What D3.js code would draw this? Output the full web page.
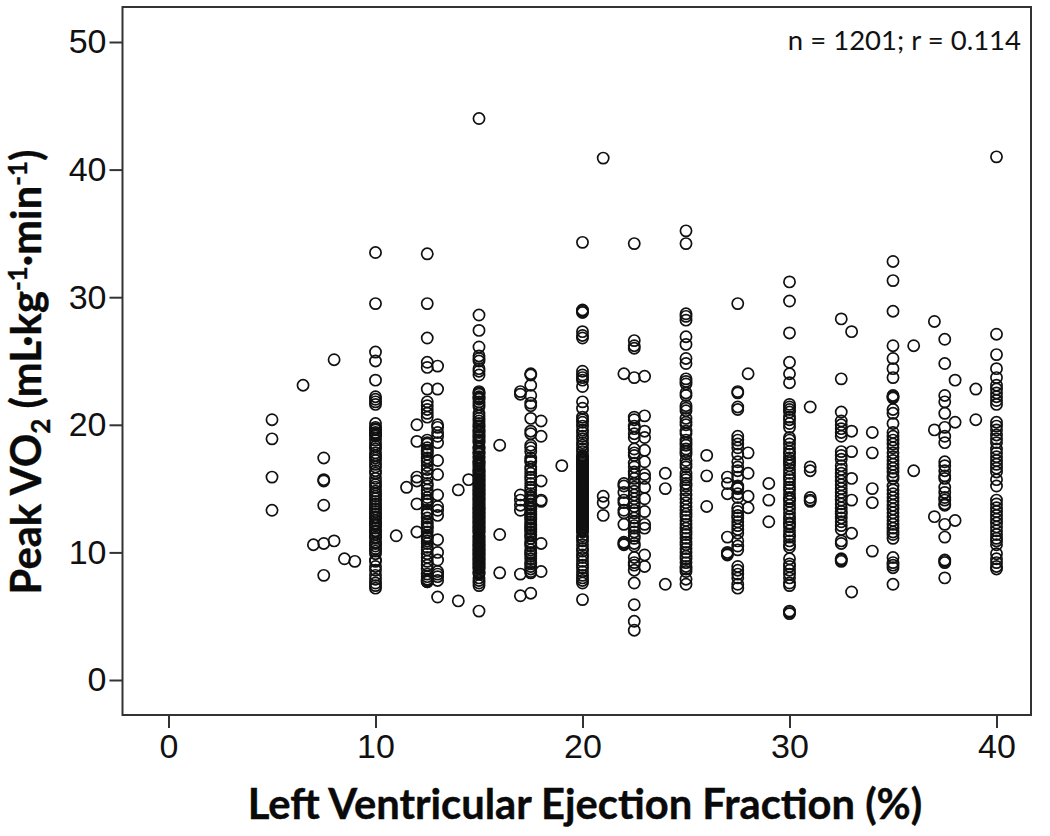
<!DOCTYPE html>
<html>
<head>
<meta charset="utf-8">
<script src="https://cdn.jsdelivr.net/npm/d3@7"></script>
<style>
body { margin: 0; background: #fff; }
svg { display: block; }
.axis text { font-family: "Liberation Sans", Arial, sans-serif; font-size: 34px; fill: #111; }
.axis line { stroke: #333; stroke-width: 2px; }
.axis path { display: none; }
.title { font-family: Lato, sans-serif; font-weight: 700; font-size: 41.7px; fill: #0a0a0a; stroke: #0a0a0a; stroke-width: 0.4px; }
.note { font-family: Lato, sans-serif; font-size: 27.5px; fill: #111; }
</style>
</head>
<body>
<div id="chart"></div>
<script>
// Peak VO2 values, one list per ejection fraction value
var ef5 = [20.4, 18.9, 15.9, 13.3]
var ef6_5 = [23.1]
var ef7 = [10.6]
var ef7_5 = [17.4, 15.7, 15.6, 13.7, 10.7, 8.2]
var ef8 = [25.1, 10.9]
var ef8_5 = [9.5]
var ef9 = [9.3]
var ef10 = [33.5, 29.5, 25.7, 25.0, 23.5, 22.2, 22.0, 21.8, 21.6, 20.1, 19.8, 19.7, 19.6, 19.4, 19.3, 19.2, 19.1, 18.8, 18.5, 18.3, 18.1, 17.8, 17.6, 17.4, 17.2, 16.9, 16.7, 16.4, 16.2, 15.8, 15.5, 15.3, 15.1, 14.8, 14.6, 14.4, 14.2, 14.0, 13.8, 13.6, 13.4, 13.2, 13.0, 12.8, 12.7, 12.5, 12.3, 12.2, 12.1, 11.9, 11.7, 11.6, 11.4, 11.2, 11.1, 10.8, 10.7, 10.5, 10.3, 10.1, 9.9, 9.4, 9.3, 8.9, 8.6, 8.2, 7.9, 7.6, 7.4, 7.2]
var ef11 = [11.3]
var ef11_5 = [15.1]
var ef12 = [20.0, 18.7, 15.9, 15.6, 13.8, 11.6]
var ef12_5 = [33.4, 29.5, 26.8, 24.9, 24.5, 22.8, 21.8, 21.5, 21.2, 20.9, 20.6, 18.8, 18.6, 18.5, 18.2, 18.0, 17.9, 17.7, 17.4, 17.2, 17.1, 16.8, 16.5, 16.2, 15.8, 15.4, 15.2, 14.9, 14.6, 14.3, 14.1, 14.0, 13.8, 13.3, 13.1, 13.0, 12.7, 12.4, 12.2, 12.0, 11.9, 11.6, 11.3, 11.2, 11.1, 10.9, 10.7, 10.4, 10.2, 9.9, 9.6, 9.3, 9.0, 8.7, 8.3, 8.1, 7.9, 7.8, 7.8, 7.7, 7.7]
var ef13 = [24.6, 22.8, 20.0, 19.8, 19.4, 19.1, 18.6, 17.2, 16.1, 14.5, 13.6, 13.3, 12.9, 11.0, 10.0, 9.4, 8.5, 8.3, 8.1, 7.8, 6.5]
var ef14 = [14.9, 6.2]
var ef14_5 = [15.7]
var ef15 = [44.0, 28.6, 27.4, 26.1, 25.4, 25.2, 25.0, 24.4, 24.2, 23.9, 22.6, 22.5, 22.4, 22.2, 22.1, 22.0, 21.8, 21.6, 21.4, 20.9, 20.7, 20.5, 20.3, 20.1, 19.9, 19.8, 19.6, 19.5, 19.4, 19.2, 19.1, 19.0, 18.8, 18.7, 18.6, 18.3, 18.2, 18.1, 17.9, 17.8, 17.7, 17.5, 17.4, 17.2, 17.1, 17.0, 16.9, 16.8, 16.6, 16.5, 16.4, 16.3, 16.2, 16.1, 16.0, 15.9, 15.8, 15.7, 15.6, 15.5, 15.4, 15.3, 15.2, 15.1, 15.0, 14.9, 14.8, 14.7, 14.6, 14.5, 14.4, 14.3, 14.2, 14.1, 14.0, 13.9, 13.8, 13.7, 13.6, 13.5, 13.4, 13.3, 13.2, 13.1, 13.0, 12.9, 12.8, 12.7, 12.6, 12.5, 12.4, 12.3, 12.2, 12.1, 12.0, 11.9, 11.8, 11.7, 11.6, 11.5, 11.3, 11.2, 11.1, 11.0, 10.9, 10.8, 10.7, 10.6, 10.5, 10.4, 10.3, 10.2, 10.1, 10.0, 9.9, 9.8, 9.7, 9.6, 9.5, 9.4, 9.3, 9.2, 9.1, 9.0, 8.9, 8.8, 8.7, 8.5, 8.4, 8.3, 8.0, 7.8, 7.6, 7.4, 5.4]
var ef16 = [18.4, 11.4, 8.4]
var ef17 = [22.6, 22.4, 14.5, 14.1, 13.7, 13.3, 8.3, 6.6]
var ef17_5 = [24.0, 23.9, 23.1, 22.3, 21.7, 21.5, 20.5, 19.5, 19.3, 18.4, 18.2, 17.9, 17.4, 17.2, 17.1, 16.7, 16.5, 16.2, 15.9, 15.7, 15.4, 15.1, 14.9, 14.6, 14.4, 14.3, 14.1, 14.0, 13.8, 13.7, 13.5, 13.4, 13.2, 13.0, 12.9, 12.7, 12.6, 12.4, 12.2, 12.1, 11.9, 11.8, 11.6, 11.4, 11.3, 11.1, 10.8, 10.7, 10.5, 10.2, 10.0, 9.9, 9.7, 9.5, 9.2, 9.1, 8.9, 8.7, 8.5, 8.4, 6.8]
var ef18 = [20.3, 19.1, 15.6, 14.1, 14.0, 10.7, 8.5]
var ef19 = [16.8]
var ef20 = [34.3, 29.0, 28.9, 28.8, 27.3, 27.0, 26.8, 24.2, 23.9, 23.7, 23.5, 23.0, 21.8, 21.3, 20.6, 20.4, 20.2, 19.9, 19.6, 19.4, 19.1, 18.9, 18.6, 18.4, 18.1, 17.9, 17.6, 17.5, 17.4, 17.3, 17.2, 17.1, 17.0, 16.9, 16.8, 16.7, 16.6, 16.5, 16.4, 16.3, 16.2, 16.1, 16.0, 15.9, 15.8, 15.7, 15.6, 15.5, 15.4, 15.3, 15.2, 15.1, 15.0, 14.9, 14.8, 14.7, 14.6, 14.5, 14.4, 14.3, 14.2, 14.1, 14.0, 13.9, 13.8, 13.7, 13.6, 13.5, 13.4, 13.3, 13.2, 13.1, 13.0, 12.9, 12.8, 12.7, 12.6, 12.5, 12.4, 12.3, 12.2, 12.1, 12.0, 11.9, 11.8, 11.7, 11.6, 11.3, 11.1, 10.9, 10.6, 10.3, 10.1, 9.8, 9.6, 9.3, 9.0, 8.8, 8.5, 8.2, 8.0, 7.8, 7.6, 6.3]
var ef21 = [40.9, 14.4, 13.9, 12.9]
var ef22 = [24.0, 15.4, 15.2, 14.7, 14.1, 13.9, 13.3, 13.1, 12.2, 10.8, 10.7, 10.6]
var ef22_5 = [34.2, 26.6, 26.2, 26.0, 23.7, 20.6, 20.4, 19.9, 19.7, 19.3, 19.0, 18.1, 17.8, 17.6, 17.0, 16.7, 16.3, 16.1, 15.8, 15.4, 15.1, 14.8, 14.5, 14.2, 13.9, 13.6, 13.3, 13.1, 12.7, 12.4, 12.1, 11.9, 11.6, 11.3, 11.1, 10.7, 10.5, 9.6, 9.2, 9.0, 8.6, 7.6, 5.9, 4.6, 3.9]
var ef23 = [23.8, 20.7, 19.5, 19.0, 18.0, 17.1, 16.1, 15.8, 15.1, 14.2, 13.2, 12.2, 11.9, 9.8, 8.9]
var ef24 = [16.2, 15.0, 7.5]
var ef25 = [35.2, 34.2, 28.7, 28.5, 28.2, 26.9, 26.3, 25.2, 24.8, 23.6, 23.4, 23.2, 22.5, 22.3, 21.5, 21.3, 21.1, 20.5, 20.2, 20.0, 19.5, 19.3, 18.8, 18.6, 18.4, 18.1, 17.9, 17.7, 17.2, 16.9, 16.7, 16.2, 15.9, 15.7, 15.4, 15.2, 14.9, 14.5, 14.2, 13.9, 13.6, 13.3, 13.0, 12.8, 12.5, 12.2, 11.9, 11.6, 11.4, 11.1, 10.8, 10.6, 10.3, 10.0, 9.7, 9.5, 9.2, 8.9, 8.7, 8.5, 7.9, 7.5]
var ef26 = [17.6, 16.0, 13.6]
var ef27 = [15.9, 15.4, 14.6, 11.2, 10.0, 9.9, 9.8]
var ef27_5 = [29.5, 22.6, 22.5, 21.4, 21.2, 19.1, 18.8, 18.5, 18.2, 17.7, 17.1, 16.7, 16.4, 15.9, 15.2, 15.1, 15.0, 14.6, 14.3, 13.5, 13.2, 12.9, 12.7, 12.4, 12.1, 11.8, 11.5, 10.9, 10.5, 10.2, 8.9, 8.6, 8.3, 8.0, 7.5, 7.2]
var ef28 = [24.0, 17.8, 16.2, 14.4, 13.5]
var ef29 = [15.4, 14.1, 12.4]
var ef30 = [31.2, 29.7, 27.2, 24.9, 24.0, 23.3, 21.6, 21.4, 21.2, 21.0, 20.6, 20.4, 20.1, 19.8, 19.0, 18.8, 18.5, 18.2, 17.9, 17.7, 17.4, 17.2, 17.0, 16.8, 16.5, 16.2, 15.9, 15.7, 15.4, 15.1, 14.9, 14.6, 14.3, 14.2, 14.0, 13.7, 13.4, 13.1, 12.8, 12.6, 12.3, 12.2, 12.0, 11.7, 11.4, 11.2, 10.9, 10.6, 10.4, 9.5, 9.1, 8.9, 8.6, 8.3, 8.0, 7.6, 7.4, 5.4, 5.3, 5.2]
var ef31 = [21.4, 16.7, 16.4, 14.3, 14.1, 14.0]
var ef32_5 = [28.3, 23.6, 21.0, 20.3, 20.0, 19.7, 19.4, 19.1, 17.9, 17.6, 17.3, 16.8, 16.5, 16.2, 15.9, 15.6, 15.3, 15.0, 14.7, 14.4, 14.1, 13.8, 13.5, 13.2, 13.0, 12.7, 12.4, 12.1, 11.8, 10.9, 10.7, 9.5, 9.4, 9.3]
var ef33 = [27.3, 19.5, 17.9, 15.8, 14.1, 11.5, 6.9]
var ef34 = [19.4, 17.8, 15.0, 13.9, 10.1]
var ef35 = [32.8, 31.3, 28.9, 26.2, 25.2, 24.4, 23.7, 22.3, 22.2, 22.1, 21.2, 20.9, 20.1, 19.4, 19.1, 18.8, 18.5, 18.2, 17.8, 17.5, 17.2, 16.9, 16.6, 16.3, 16.0, 15.8, 15.2, 14.9, 14.6, 14.3, 14.0, 13.7, 13.4, 13.1, 12.8, 12.5, 12.2, 11.9, 11.6, 11.4, 11.1, 9.6, 9.2, 9.0, 8.8, 7.5]
var ef36 = [26.2, 16.4]
var ef37 = [28.1, 19.6, 12.8]
var ef37_5 = [26.7, 24.8, 22.3, 21.8, 20.9, 19.8, 19.1, 18.6, 17.1, 16.8, 16.4, 16.0, 15.8, 15.1, 14.7, 14.3, 14.1, 13.8, 13.7, 12.2, 11.2, 9.4, 9.3, 9.2, 8.0]
var ef38 = [23.5, 20.2, 12.5]
var ef39 = [22.8, 20.4]
var ef40 = [41.0, 27.1, 25.5, 24.4, 23.7, 23.1, 22.8, 22.5, 22.2, 21.9, 21.6, 20.2, 19.9, 19.6, 19.2, 18.9, 18.6, 18.1, 17.8, 17.5, 17.2, 16.9, 16.6, 16.3, 15.7, 15.2, 14.1, 13.8, 13.5, 13.2, 12.9, 12.6, 12.3, 12.0, 11.7, 11.4, 11.1, 10.9, 10.6, 9.9, 9.5, 9.2, 8.9, 8.7]

var efValues = [5, 6.5, 7, 7.5, 8, 8.5, 9, 10, 11, 11.5, 12, 12.5, 13, 14, 14.5, 15, 16, 17, 17.5, 18, 19, 20, 21, 22, 22.5, 23, 24, 25, 26, 27, 27.5, 28, 29, 30, 31, 32.5, 33, 34, 35, 36, 37, 37.5, 38, 39, 40]
var vo2Values = [ef5, ef6_5, ef7, ef7_5, ef8, ef8_5, ef9, ef10, ef11, ef11_5, ef12, ef12_5, ef13, ef14, ef14_5, ef15, ef16, ef17, ef17_5, ef18, ef19, ef20, ef21, ef22, ef22_5, ef23, ef24, ef25, ef26, ef27, ef27_5, ef28, ef29, ef30, ef31, ef32_5, ef33, ef34, ef35, ef36, ef37, ef37_5, ef38, ef39, ef40]

var xTicks = [0, 10, 20, 30, 40]
var yTicks = [0, 10, 20, 30, 40, 50]

const WIDTH = 1050
const HEIGHT = 836
const FRAME = { left: 122.5, top: 7, right: 1031, bottom: 715 }

var svg = d3.select("#chart").append("svg")
    .attr("width", WIDTH)
    .attr("height", HEIGHT)

var x = d3.scaleLinear().domain([0, 40]).range([168.5, 996.5])
var y = d3.scaleLinear().domain([0, 50]).range([680, 42])

// flatten the columns into points
var points = []
efValues.forEach(function(ef, i) {
    vo2Values[i].forEach(function(v) { points.push({ ef: ef, vo2: v }) })
})

svg.append("g")
    .selectAll("circle")
    .data(points)
    .enter()
    .append("circle")
    .attr("cx", d => x(d.ef))
    .attr("cy", d => y(d.vo2))
    .attr("r", 5.6)
    .attr("fill", "none")
    .attr("stroke", "#111")
    .attr("stroke-width", 1.7)

// frame
svg.append("rect")
    .attr("x", FRAME.left)
    .attr("y", FRAME.top)
    .attr("width", FRAME.right - FRAME.left)
    .attr("height", FRAME.bottom - FRAME.top)
    .attr("fill", "none")
    .attr("stroke", "#333")
    .attr("stroke-width", 2)

svg.append("g")
    .attr("class", "axis")
    .attr("transform", "translate(0," + FRAME.bottom + ")")
    .call(d3.axisBottom(x).tickValues(xTicks).tickSize(13).tickPadding(6).tickFormat(d3.format("d")))

svg.append("g")
    .attr("class", "axis")
    .attr("transform", "translate(" + FRAME.left + ",0)")
    .call(d3.axisLeft(y).tickValues(yTicks).tickSize(13).tickPadding(3).tickFormat(d3.format("d")))

svg.append("text")
    .attr("class", "note")
    .attr("x", 1021)
    .attr("y", 50)
    .attr("text-anchor", "end")
    .text("n = 1201; r = 0.114")

svg.append("text")
    .attr("class", "title")
    .attr("x", 585)
    .attr("y", 819)
    .attr("text-anchor", "middle")
    .text("Left Ventricular Ejection Fraction (%)")

// y title has sub and superscripts
var yTitle = svg.append("text")
    .attr("class", "title")
    .attr("transform", "translate(41,372) rotate(-90)")
    .attr("text-anchor", "middle")

var parts = [
    ["Peak VO", 0, 41.7], ["2", 9, 26], [" (mL\u00b7kg", -9, 41.7], ["-1", -14, 26],
    ["\u00b7min", 14, 41.7], ["-1", -14, 26], [")", 14, 41.7]
]
parts.forEach(function(p) {
    yTitle.append("tspan")
        .attr("dy", p[1])
        .style("font-size", p[2] + "px")
        .text(p[0])
})
</script>
</body>
</html>
